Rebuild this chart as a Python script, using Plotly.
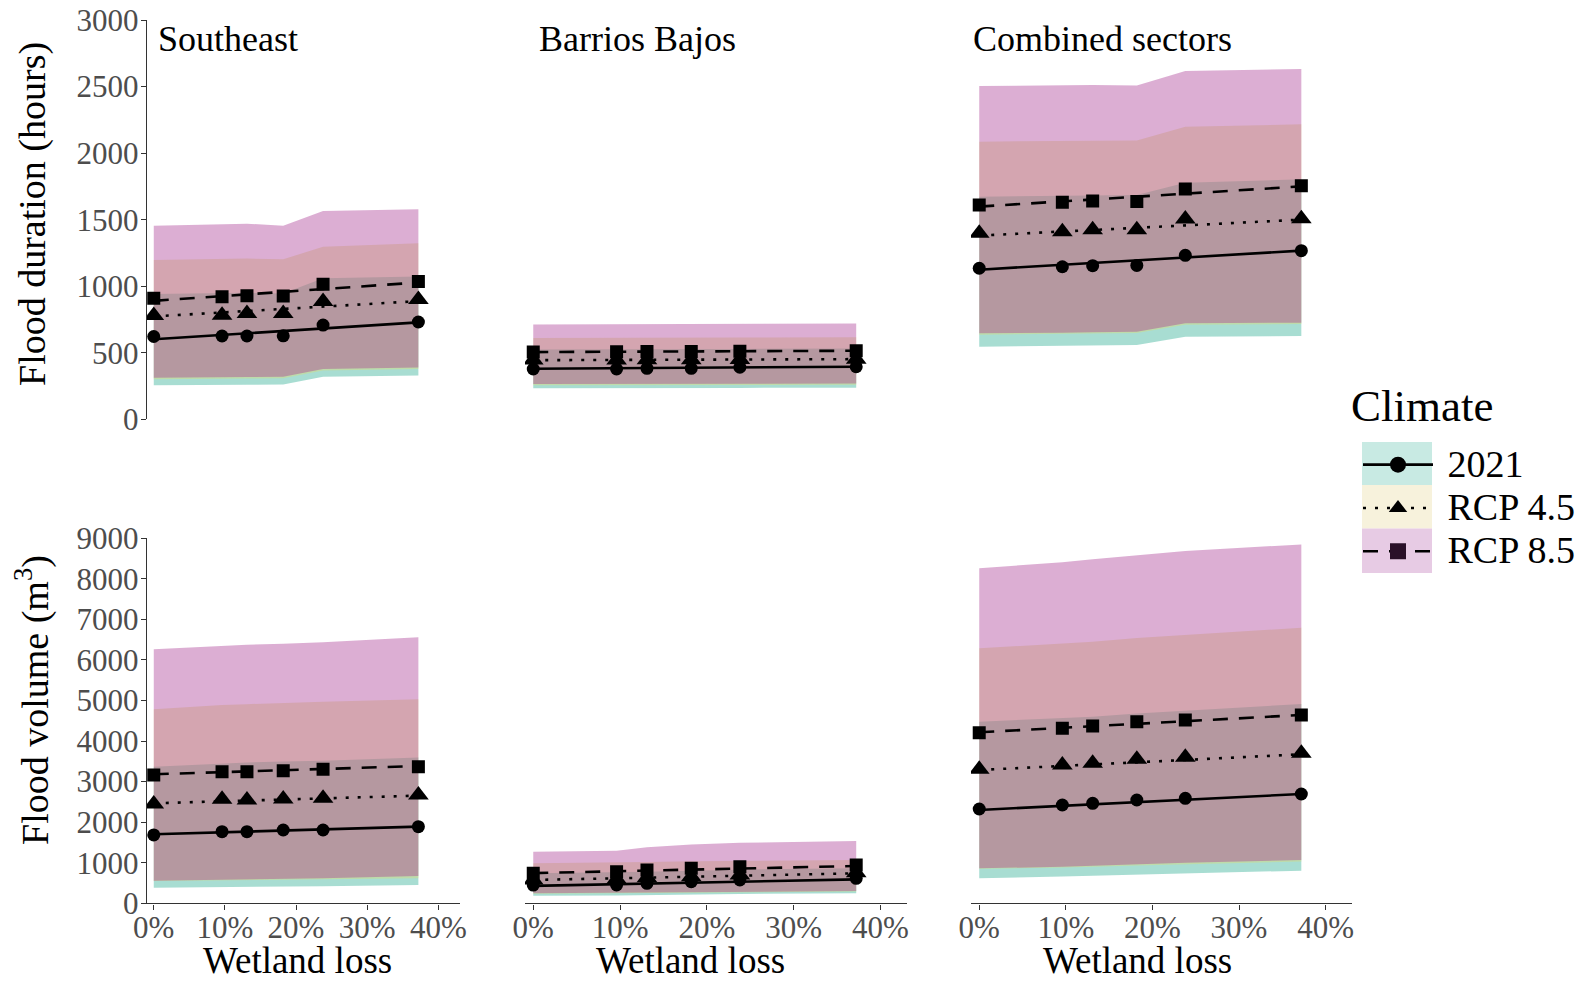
import plotly.graph_objects as go

# ---------------- data ----------------
WETLAND_LOSS = [0, 9.6, 13.1, 18.2, 23.8, 37.2]
SCENARIOS = ["2021", "RCP 4.5", "RCP 8.5"]
PANEL_TITLES = ["Southeast", "Barrios Bajos", "Combined sectors"]
X_TICKS = [0, 10, 20, 30, 40]
DUR_TICKS = [0, 500, 1000, 1500, 2000, 2500, 3000]
VOL_TICKS = [0, 1000, 2000, 3000, 4000, 5000, 6000, 7000, 8000, 9000]

# Southeast - flood duration (hours)
SE_DUR_MEAN_2021 = [622, 626, 626, 627, 708, 731]
SE_DUR_MEAN_45 = [780, 782, 795, 795, 885, 901]
SE_DUR_MEAN_85 = [909, 921, 929, 926, 1014, 1036]
SE_DUR_TREND_2021 = [601, 728]
SE_DUR_TREND_45 = [773, 888]
SE_DUR_TREND_85 = [890, 1028]
SE_DUR_LOW_2021 = [255, 258, 260, 262, 320, 330]
SE_DUR_LOW_45 = [300, 304, 307, 308, 366, 378]
SE_DUR_LOW_85 = [313, 316, 318, 320, 378, 390]
SE_DUR_HIGH_2021 = [942, 946, 950, 946, 1059, 1072]
SE_DUR_HIGH_45 = [1197, 1202, 1208, 1202, 1297, 1322]
SE_DUR_HIGH_85 = [1455, 1462, 1470, 1455, 1565, 1578]

# Barrios Bajos - flood duration (hours)
BB_DUR_MEAN_2021 = [378, 378, 383, 383, 391, 395]
BB_DUR_MEAN_45 = [445, 445, 447, 447, 450, 452]
BB_DUR_MEAN_85 = [505, 508, 510, 510, 512, 515]
BB_DUR_TREND_2021 = [380, 395]
BB_DUR_TREND_45 = [444, 452]
BB_DUR_TREND_85 = [505, 515]
BB_DUR_LOW_2021 = [233, 233, 234, 234, 236, 237]
BB_DUR_LOW_45 = [255, 255, 256, 256, 258, 259]
BB_DUR_LOW_85 = [265, 265, 266, 266, 268, 269]
BB_DUR_HIGH_2021 = [525, 525, 527, 527, 529, 531]
BB_DUR_HIGH_45 = [610, 610, 612, 612, 614, 616]
BB_DUR_HIGH_85 = [712, 714, 716, 716, 718, 720]

# Combined sectors - flood duration (hours)
CS_DUR_MEAN_2021 = [1135, 1146, 1154, 1156, 1232, 1267]
CS_DUR_MEAN_45 = [1398, 1410, 1425, 1424, 1505, 1506]
CS_DUR_MEAN_85 = [1610, 1630, 1640, 1636, 1730, 1755]
CS_DUR_TREND_2021 = [1124, 1267]
CS_DUR_TREND_45 = [1380, 1500]
CS_DUR_TREND_85 = [1598, 1750]
CS_DUR_LOW_2021 = [545, 549, 553, 558, 621, 626]
CS_DUR_LOW_45 = [636, 640, 644, 648, 711, 716]
CS_DUR_LOW_85 = [646, 650, 654, 658, 721, 726]
CS_DUR_HIGH_2021 = [1672, 1676, 1680, 1685, 1778, 1803]
CS_DUR_HIGH_45 = [2086, 2090, 2093, 2095, 2198, 2216]
CS_DUR_HIGH_85 = [2504, 2508, 2512, 2508, 2617, 2632]

# Southeast - flood volume (m3)
SE_VOL_MEAN_2021 = [1685, 1767, 1767, 1808, 1808, 1890]
SE_VOL_MEAN_45 = [2449, 2564, 2548, 2573, 2589, 2671]
SE_VOL_MEAN_85 = [3164, 3246, 3246, 3271, 3304, 3370]
SE_VOL_TREND_2021 = [1701, 1890]
SE_VOL_TREND_45 = [2466, 2655]
SE_VOL_TREND_85 = [3181, 3386]
SE_VOL_LOW_2021 = [386, 400, 405, 412, 420, 452]
SE_VOL_LOW_45 = [550, 565, 570, 580, 590, 620]
SE_VOL_LOW_85 = [559, 580, 590, 605, 620, 675]
SE_VOL_HIGH_2021 = [3370, 3452, 3470, 3495, 3518, 3592]
SE_VOL_HIGH_45 = [4783, 4890, 4910, 4940, 4972, 5030]
SE_VOL_HIGH_85 = [6263, 6353, 6375, 6400, 6436, 6559]

# Barrios Bajos - flood volume (m3)
BB_VOL_MEAN_2021 = [450, 452, 493, 533, 575, 616]
BB_VOL_MEAN_45 = [575, 591, 633, 657, 698, 756]
BB_VOL_MEAN_85 = [740, 780, 821, 863, 904, 945]
BB_VOL_TREND_2021 = [430, 590]
BB_VOL_TREND_45 = [575, 740]
BB_VOL_TREND_85 = [745, 920]
BB_VOL_LOW_2021 = [188, 195, 205, 215, 230, 247]
BB_VOL_LOW_45 = [235, 243, 252, 262, 272, 290]
BB_VOL_LOW_85 = [247, 255, 265, 275, 285, 303]
BB_VOL_HIGH_2021 = [740, 760, 780, 800, 830, 865]
BB_VOL_HIGH_45 = [990, 1000, 1020, 1035, 1050, 1070]
BB_VOL_HIGH_85 = [1270, 1297, 1380, 1450, 1490, 1536]

# Combined sectors - flood volume (m3)
CS_VOL_MEAN_2021 = [2325, 2424, 2465, 2547, 2589, 2695]
CS_VOL_MEAN_45 = [3304, 3410, 3452, 3551, 3600, 3699]
CS_VOL_MEAN_85 = [4207, 4316, 4372, 4479, 4521, 4644]
CS_VOL_TREND_2021 = [2301, 2695]
CS_VOL_TREND_45 = [3287, 3674]
CS_VOL_TREND_85 = [4216, 4644]
CS_VOL_LOW_2021 = [616, 660, 680, 715, 745, 805]
CS_VOL_LOW_45 = [850, 880, 900, 935, 970, 1030]
CS_VOL_LOW_85 = [863, 900, 920, 960, 1000, 1068]
CS_VOL_HIGH_2021 = [4479, 4560, 4600, 4680, 4750, 4915]
CS_VOL_HIGH_45 = [6288, 6400, 6450, 6540, 6620, 6797]
CS_VOL_HIGH_85 = [8261, 8409, 8483, 8589, 8688, 8850]

# ---------------- styling ----------------
FONT = "Liberation Serif"
W, H = 1591, 981
FILL = ["rgba(37,170,142,0.4)", "rgba(222,217,110,0.4)", "rgba(167,52,145,0.4)"]
KEY_FILL = ["rgb(200,234,227)", "rgb(247,242,220)", "rgb(231,203,228)"]
SYMBOLS = ["circle", "triangle-up", "square"]
MSIZE = [13, 18, 13]
DASH = ["solid", "3px,9px", "15px,11px"]
LEGEND_MARKER = ["black", "black", "#2a1028"]
TICK_FONT = 31

panels = [
    (0, 0, [SE_DUR_MEAN_2021, SE_DUR_MEAN_45, SE_DUR_MEAN_85],
     [SE_DUR_TREND_2021, SE_DUR_TREND_45, SE_DUR_TREND_85],
     [SE_DUR_LOW_2021, SE_DUR_LOW_45, SE_DUR_LOW_85],
     [SE_DUR_HIGH_2021, SE_DUR_HIGH_45, SE_DUR_HIGH_85]),
    (0, 1, [BB_DUR_MEAN_2021, BB_DUR_MEAN_45, BB_DUR_MEAN_85],
     [BB_DUR_TREND_2021, BB_DUR_TREND_45, BB_DUR_TREND_85],
     [BB_DUR_LOW_2021, BB_DUR_LOW_45, BB_DUR_LOW_85],
     [BB_DUR_HIGH_2021, BB_DUR_HIGH_45, BB_DUR_HIGH_85]),
    (0, 2, [CS_DUR_MEAN_2021, CS_DUR_MEAN_45, CS_DUR_MEAN_85],
     [CS_DUR_TREND_2021, CS_DUR_TREND_45, CS_DUR_TREND_85],
     [CS_DUR_LOW_2021, CS_DUR_LOW_45, CS_DUR_LOW_85],
     [CS_DUR_HIGH_2021, CS_DUR_HIGH_45, CS_DUR_HIGH_85]),
    (1, 0, [SE_VOL_MEAN_2021, SE_VOL_MEAN_45, SE_VOL_MEAN_85],
     [SE_VOL_TREND_2021, SE_VOL_TREND_45, SE_VOL_TREND_85],
     [SE_VOL_LOW_2021, SE_VOL_LOW_45, SE_VOL_LOW_85],
     [SE_VOL_HIGH_2021, SE_VOL_HIGH_45, SE_VOL_HIGH_85]),
    (1, 1, [BB_VOL_MEAN_2021, BB_VOL_MEAN_45, BB_VOL_MEAN_85],
     [BB_VOL_TREND_2021, BB_VOL_TREND_45, BB_VOL_TREND_85],
     [BB_VOL_LOW_2021, BB_VOL_LOW_45, BB_VOL_LOW_85],
     [BB_VOL_HIGH_2021, BB_VOL_HIGH_45, BB_VOL_HIGH_85]),
    (1, 2, [CS_VOL_MEAN_2021, CS_VOL_MEAN_45, CS_VOL_MEAN_85],
     [CS_VOL_TREND_2021, CS_VOL_TREND_45, CS_VOL_TREND_85],
     [CS_VOL_LOW_2021, CS_VOL_LOW_45, CS_VOL_LOW_85],
     [CS_VOL_HIGH_2021, CS_VOL_HIGH_45, CS_VOL_HIGH_85]),
]

COL_PX = [(147, 460), (525, 907), (971, 1352)]
ROW_PX = [(20, 419.3), (538.3, 903.3)]

fig = go.Figure()

def axis_ids(row, col):
    i = row * 3 + col + 1
    return ("x" if i == 1 else f"x{i}"), ("y" if i == 1 else f"y{i}"), i

for row, col, means, trends, lows, highs in panels:
    xa, ya, _ = axis_ids(row, col)
    for k in range(3):
        fig.add_trace(go.Scatter(
            x=WETLAND_LOSS + WETLAND_LOSS[::-1],
            y=highs[k] + lows[k][::-1],
            fill="toself", fillcolor=FILL[k], line=dict(width=0),
            mode="lines", hoverinfo="skip", showlegend=False,
            xaxis=xa, yaxis=ya))

for row, col, means, trends, lows, highs in panels:
    xa, ya, _ = axis_ids(row, col)
    for k in range(3):
        fig.add_trace(go.Scatter(
            x=[WETLAND_LOSS[0], WETLAND_LOSS[-1]], y=trends[k],
            mode="lines", line=dict(color="black", width=2.6, dash=DASH[k]),
            showlegend=False, hoverinfo="skip", xaxis=xa, yaxis=ya))
        fig.add_trace(go.Scatter(
            x=WETLAND_LOSS, y=means[k], mode="markers",
            marker=dict(symbol=SYMBOLS[k], size=MSIZE[k], color="black"),
            showlegend=False, name=SCENARIOS[k], xaxis=xa, yaxis=ya))

for k in range(3):
    fig.add_trace(go.Scatter(
        x=[None], y=[None], mode="lines+markers",
        name=f"<span style='font-size:38px'>\u00a0{SCENARIOS[k]}</span>",
        line=dict(color="black", width=2.6, dash=DASH[k]),
        marker=dict(symbol=SYMBOLS[k], size=16, color=LEGEND_MARKER[k]),
        showlegend=True, xaxis="x", yaxis="y"))

layout = dict(
    width=W, height=H,
    margin=dict(l=0, r=0, t=0, b=0),
    paper_bgcolor="white", plot_bgcolor="rgba(0,0,0,0)",
    font=dict(family=FONT, color="black"),
    showlegend=True,
    legend=dict(
        x=1358 / W, y=1 - 438 / H, xanchor="left", yanchor="top",
        font=dict(size=31, family=FONT), bgcolor="rgba(0,0,0,0)",
        itemsizing="trace", tracegroupgap=0, itemwidth=70),
)

for row in range(2):
    for col in range(3):
        xa, ya, i = axis_ids(row, col)
        c0, c1 = COL_PX[col]
        r0, r1 = ROW_PX[row]
        bottom = row == 1
        left = col == 0
        xkey = "xaxis" if i == 1 else f"xaxis{i}"
        ykey = "yaxis" if i == 1 else f"yaxis{i}"
        layout[xkey] = dict(
            domain=[c0 / W, c1 / W], range=[-0.95, 43.05], anchor=ya,
            showgrid=False, zeroline=False, visible=bottom,
            showline=True, linecolor="#333", linewidth=1.4,
            ticks="outside", ticklen=5, tickwidth=1.2, tickcolor="#333",
            tickvals=X_TICKS, ticktext=[f"{v}%" for v in X_TICKS],
            tickfont=dict(size=TICK_FONT, color="#4d4d4d", family=FONT),
            automargin=False, fixedrange=True)
        yt = DUR_TICKS if row == 0 else VOL_TICKS
        layout[ykey] = dict(
            domain=[1 - r1 / H, 1 - r0 / H], range=[0, yt[-1]], anchor=xa,
            showgrid=False, zeroline=False, visible=left,
            showline=True, linecolor="#333", linewidth=1.4,
            ticks="outside", ticklen=5, tickwidth=1.2, tickcolor="#333",
            tickvals=yt, tickfont=dict(size=TICK_FONT, color="#4d4d4d", family=FONT),
            automargin=False, fixedrange=True)

annotations = []
for title, xpx in zip(PANEL_TITLES, [156, 537, 971]):
    annotations.append(dict(text=title, x=xpx / W, y=1 - 39 / H, xref="paper", yref="paper",
                            xanchor="left", yanchor="middle", showarrow=False,
                            font=dict(size=36, family=FONT, color="black")))
for xpx in [297, 690, 1137]:
    annotations.append(dict(text="Wetland loss", x=xpx / W, y=1 - 960 / H, xref="paper", yref="paper",
                            xanchor="center", yanchor="middle", showarrow=False,
                            font=dict(size=37, family=FONT, color="black")))
annotations.append(dict(text="Flood duration (hours)", x=32 / W, y=1 - 214 / H, xref="paper", yref="paper",
                        xanchor="center", yanchor="middle", textangle=-90, showarrow=False,
                        font=dict(size=38, family=FONT, color="black")))
annotations.append(dict(text="Flood volume (m<sup>3</sup>)", x=32 / W, y=1 - 700 / H, xref="paper", yref="paper",
                        xanchor="center", yanchor="middle", textangle=-90, showarrow=False,
                        font=dict(size=38, family=FONT, color="black")))
annotations.append(dict(text="Climate", x=1349 / W, y=1 - 406 / H, xref="paper", yref="paper",
                        xanchor="left", yanchor="middle", showarrow=False,
                        font=dict(size=45, family=FONT, color="black")))
layout["annotations"] = annotations

KEY_ROWS_PX = [(442, 485), (485, 528.5), (528.5, 573)]
layout["shapes"] = [
    dict(type="rect", xref="paper", yref="paper",
         x0=1362 / W, x1=1432 / W, y0=1 - b / H, y1=1 - t / H,
         fillcolor=KEY_FILL[k], line=dict(width=0), layer="below")
    for k, (t, b) in enumerate(KEY_ROWS_PX)
]

fig.update_layout(**layout)

try:
    for row in range(2):
        for col in range(3):
            _, _, i = axis_ids(row, col)
            xkey = "xaxis" if i == 1 else f"xaxis{i}"
            ykey = "yaxis" if i == 1 else f"yaxis{i}"
            fig.layout[xkey].ticklabelstandoff = -9
            fig.layout[ykey].ticklabelstandoff = -4
except Exception:
    pass

fig.write_html("out.html")
